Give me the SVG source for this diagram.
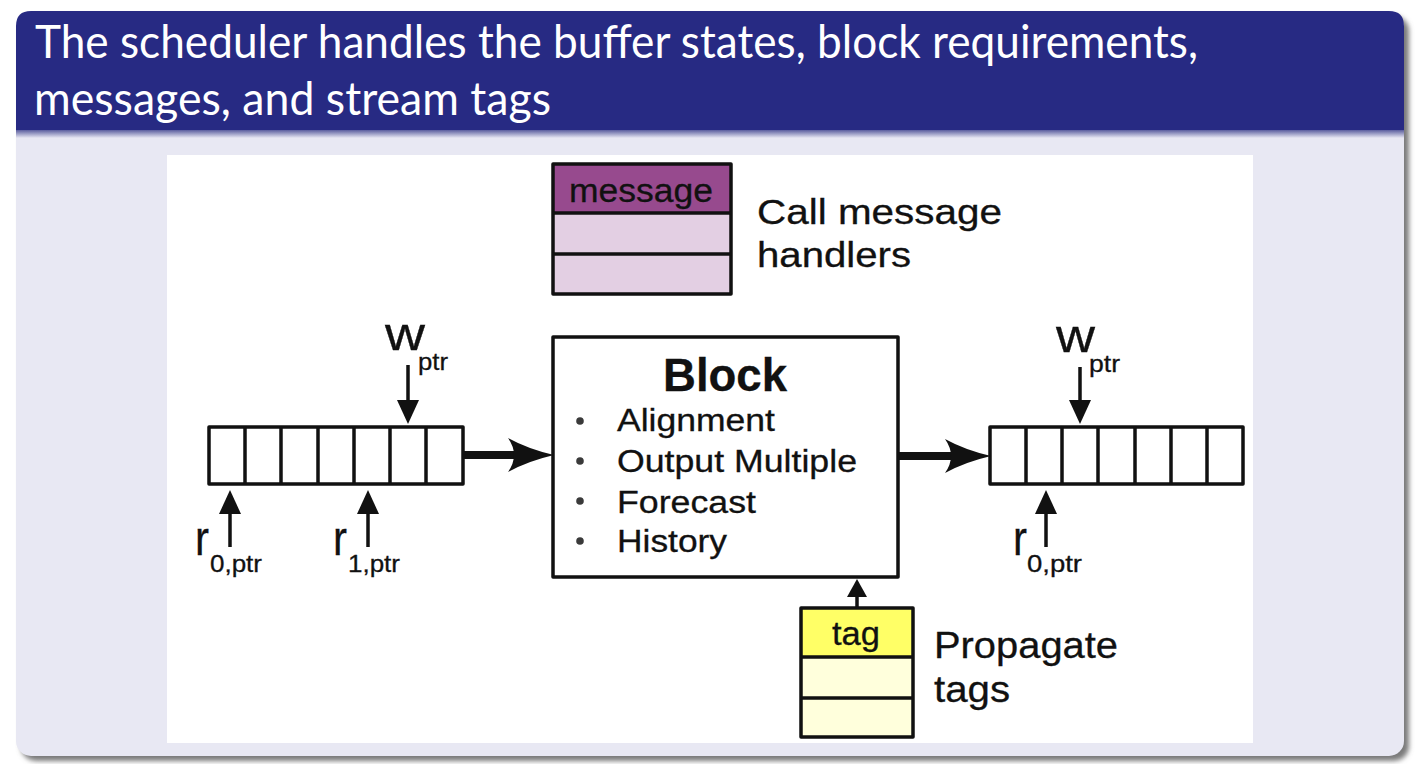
<svg xmlns="http://www.w3.org/2000/svg" width="1420" height="764" viewBox="0 0 1420 764">
<style>
.title{font-family:Lato,"Open Sans","DejaVu Sans",sans-serif;font-size:46px;fill:#ffffff}
.t{font-family:"Liberation Sans",Arial,sans-serif;fill:#111111;stroke:#111111;stroke-width:0.3}
.box{fill:none;stroke:#111111;stroke-width:3.5;stroke-linejoin:round}
.div{stroke:#111111;stroke-width:3.5}
.thin{stroke:#111111;stroke-width:3.5;fill:none}
.thick{stroke:#111111;stroke-width:8;fill:none}
.bul{fill:#3a3a3a}
</style>
<defs>
<linearGradient id="hdrShade" x1="0" y1="0" x2="0" y2="1">
<stop offset="0" stop-color="#5a5d9e"/>
<stop offset="1" stop-color="#e8e8f3"/>
</linearGradient>
<filter id="blur" x="-5%" y="-5%" width="110%" height="110%">
<feGaussianBlur stdDeviation="2.5"/>
</filter>
<marker id="headThin" markerUnits="userSpaceOnUse" markerWidth="26" markerHeight="24" refX="0" refY="11" orient="auto" viewBox="0 0 26 24">
<path d="M0,0 L24,11 L0,22 z" fill="#111111"/>
</marker>
<marker id="headSmall" markerUnits="userSpaceOnUse" markerWidth="20" markerHeight="22" refX="0" refY="10" orient="auto" viewBox="0 0 20 22">
<path d="M0,0 L18,10 L0,20 z" fill="#111111"/>
</marker>
<marker id="headThick" markerUnits="userSpaceOnUse" markerWidth="48" markerHeight="36" refX="12" refY="17" orient="auto" viewBox="0 0 48 36">
<path d="M0,0 Q20,11 46,17 Q20,23 0,34 Q12,17 0,0 z" fill="#111111"/>
</marker>
</defs>

<!-- frame -->
<g id="frame">
<rect x="21" y="16" width="1388" height="745" rx="15" fill="#7a7a7a" filter="url(#blur)"/>
<rect x="16" y="11" width="1388" height="745" rx="15" fill="#e8e8f3"/>
<path d="M16,130 L16,26 Q16,11 31,11 L1389,11 Q1404,11 1404,26 L1404,130 z" fill="#272a83"/>
<rect x="16" y="130" width="1388" height="8" fill="url(#hdrShade)"/>
<text class="title" x="35" y="58" textLength="1163" lengthAdjust="spacingAndGlyphs">The scheduler handles the buffer states, block requirements,</text>
<text class="title" x="34" y="115" textLength="517" lengthAdjust="spacingAndGlyphs">messages, and stream tags</text>
<rect x="167" y="155" width="1086" height="588" fill="#ffffff"/>
</g>

<!-- message stack -->
<g id="message-stack">
<rect x="553" y="164" width="178" height="49" fill="#974a8e"/>
<rect x="553" y="213" width="178" height="81" fill="#e3cfe3"/>
<rect class="box" x="553" y="164" width="178" height="130"/>
<line class="div" x1="553" y1="213" x2="731" y2="213"/>
<line class="div" x1="553" y1="254" x2="731" y2="254"/>
<text class="t" x="569" y="202" font-size="34" textLength="144" lengthAdjust="spacingAndGlyphs">message</text>
</g>
<g id="message-label">
<text class="t" x="757" y="224" font-size="35" textLength="245" lengthAdjust="spacingAndGlyphs">Call message</text>
<text class="t" x="757" y="267" font-size="35" textLength="154" lengthAdjust="spacingAndGlyphs">handlers</text>
</g>

<!-- input buffer -->
<g id="input-buffer">
<rect class="box" x="209" y="427" width="254" height="57" fill="#ffffff"/>
<line class="div" x1="245" y1="427" x2="245" y2="484"/>
<line class="div" x1="281" y1="427" x2="281" y2="484"/>
<line class="div" x1="318" y1="427" x2="318" y2="484"/>
<line class="div" x1="354" y1="427" x2="354" y2="484"/>
<line class="div" x1="390" y1="427" x2="390" y2="484"/>
<line class="div" x1="426" y1="427" x2="426" y2="484"/>
</g>
<g id="input-wptr">
<text class="t" x="385" y="350" font-size="46" textLength="40" lengthAdjust="spacingAndGlyphs" stroke-width="1">w</text>
<text class="t" x="418" y="370" font-size="24" textLength="30" lengthAdjust="spacingAndGlyphs">ptr</text>
</g>
<g id="input-r0ptr">
<text class="t" x="195" y="555" font-size="48" textLength="14" lengthAdjust="spacingAndGlyphs" stroke-width="1">r</text>
<text class="t" x="210" y="572" font-size="24" textLength="52" lengthAdjust="spacingAndGlyphs">0,ptr</text>
</g>
<g id="input-r1ptr">
<text class="t" x="333" y="555" font-size="48" textLength="14" lengthAdjust="spacingAndGlyphs" stroke-width="1">r</text>
<text class="t" x="348" y="572" font-size="24" textLength="52" lengthAdjust="spacingAndGlyphs">1,ptr</text>
</g>

<!-- block -->
<g id="block">
<rect class="box" x="553" y="337" width="345" height="240" fill="#ffffff"/>
<text class="t" x="663" y="391" font-size="46" font-weight="bold" textLength="124" lengthAdjust="spacingAndGlyphs">Block</text>
<circle class="bul" cx="580" cy="421" r="3.8"/>
<circle class="bul" cx="580" cy="461" r="3.8"/>
<circle class="bul" cx="580" cy="501" r="3.8"/>
<circle class="bul" cx="580" cy="541" r="3.8"/>
<text class="t" x="617" y="431" font-size="31" textLength="158" lengthAdjust="spacingAndGlyphs">Alignment</text>
<text class="t" x="617" y="472" font-size="31" textLength="240" lengthAdjust="spacingAndGlyphs">Output Multiple</text>
<text class="t" x="617" y="513" font-size="31" textLength="139" lengthAdjust="spacingAndGlyphs">Forecast</text>
<text class="t" x="617" y="552" font-size="31" textLength="110" lengthAdjust="spacingAndGlyphs">History</text>
</g>

<!-- output buffer -->
<g id="output-buffer">
<rect class="box" x="990" y="427" width="253" height="57" fill="#ffffff"/>
<line class="div" x1="1026" y1="427" x2="1026" y2="484"/>
<line class="div" x1="1062" y1="427" x2="1062" y2="484"/>
<line class="div" x1="1098" y1="427" x2="1098" y2="484"/>
<line class="div" x1="1135" y1="427" x2="1135" y2="484"/>
<line class="div" x1="1171" y1="427" x2="1171" y2="484"/>
<line class="div" x1="1207" y1="427" x2="1207" y2="484"/>
</g>
<g id="output-wptr">
<text class="t" x="1056" y="352" font-size="46" textLength="39" lengthAdjust="spacingAndGlyphs" stroke-width="1">w</text>
<text class="t" x="1089" y="372" font-size="24" textLength="31" lengthAdjust="spacingAndGlyphs">ptr</text>
</g>
<g id="output-r0ptr">
<text class="t" x="1013" y="555" font-size="48" textLength="14" lengthAdjust="spacingAndGlyphs" stroke-width="1">r</text>
<text class="t" x="1027" y="572" font-size="24" textLength="55" lengthAdjust="spacingAndGlyphs">0,ptr</text>
</g>

<!-- tag stack -->
<g id="tag-stack">
<rect x="801" y="608" width="112" height="49" fill="#ffff66"/>
<rect x="801" y="657" width="112" height="80" fill="#ffffdc"/>
<rect class="box" x="801" y="608" width="112" height="129"/>
<line class="div" x1="801" y1="657" x2="913" y2="657"/>
<line class="div" x1="801" y1="698" x2="913" y2="698"/>
<text class="t" x="832" y="645" font-size="33" textLength="48" lengthAdjust="spacingAndGlyphs">tag</text>
</g>
<g id="tag-label">
<text class="t" x="934" y="658" font-size="36" textLength="184" lengthAdjust="spacingAndGlyphs">Propagate</text>
<text class="t" x="934" y="702" font-size="36" textLength="76" lengthAdjust="spacingAndGlyphs">tags</text>
</g>

<!-- connectors -->
<g id="connectors">
<line class="thick" x1="463" y1="455" x2="520" y2="455" marker-end="url(#headThick)"/>
<line class="thick" x1="898" y1="456" x2="957" y2="456" marker-end="url(#headThick)"/>
<line class="thin" x1="408" y1="365" x2="408" y2="400" marker-end="url(#headThin)"/>
<line class="thin" x1="1080" y1="367" x2="1080" y2="400" marker-end="url(#headThin)"/>
<line class="thin" x1="230" y1="547" x2="230" y2="514" marker-end="url(#headThin)"/>
<line class="thin" x1="368" y1="547" x2="368" y2="514" marker-end="url(#headThin)"/>
<line class="thin" x1="1046" y1="547" x2="1046" y2="514" marker-end="url(#headThin)"/>
<line class="thin" x1="857" y1="608" x2="857" y2="597" marker-end="url(#headSmall)"/>
</g>
</svg>
